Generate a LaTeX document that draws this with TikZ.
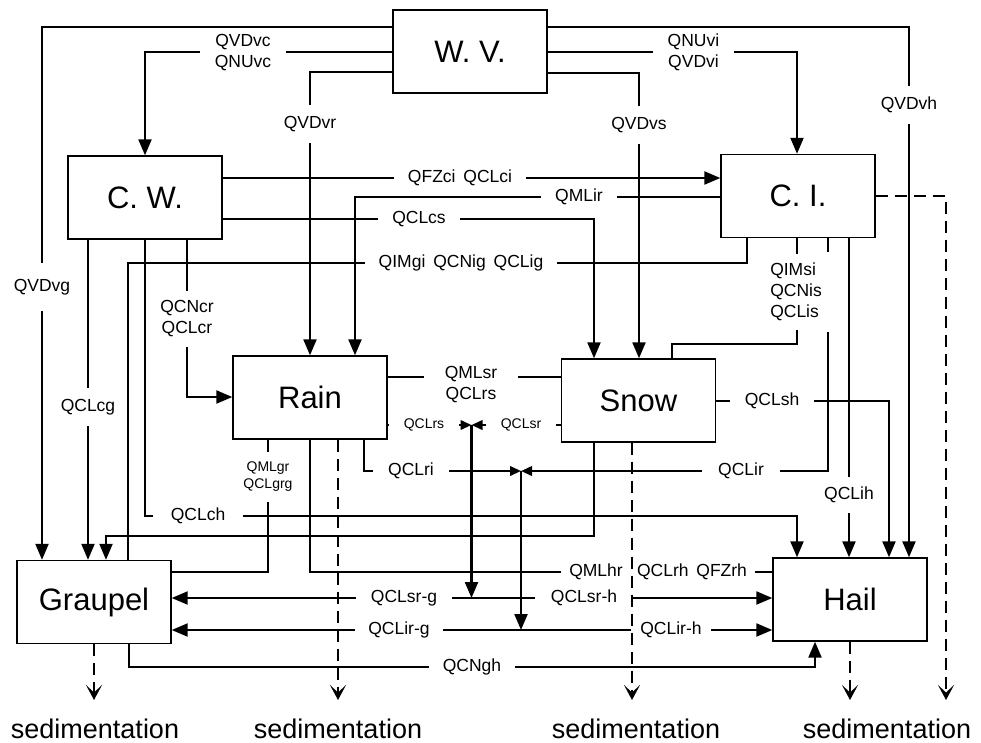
\documentclass[tikz,border=0pt]{standalone}
\usepackage{fontspec}
\setmainfont{Liberation Sans}
\usetikzlibrary{arrows.meta}
\begin{document}
\begin{tikzpicture}[x=1pt,y=-1pt,
  box/.style={draw, line width=1.4pt, fill=white, minimum width=154pt, minimum height=83pt, inner sep=0pt, font=\fontsize{31}{37}\selectfont},
  con/.style={draw, line width=2.2pt},
  arr/.style={-{Triangle[length=16pt,width=13pt]}},
  sarr/.style={-{Triangle[length=11pt,width=9.5pt]}},
  sed/.style={line width=2.2pt, dash pattern=on 12pt off 7pt, -{Stealth[length=15pt,width=16pt,inset=7.5pt]}},
  lab/.style={fill=white, inner sep=0pt, font=\fontsize{17.5}{21}\selectfont, align=center},
  hlab/.style={lab, inner ysep=1pt, inner xsep=#1}, hlab/.default=14pt,
  vlab/.style={lab, inner xsep=1pt, inner ysep=#1}, vlab/.default=11pt,
  smlab/.style={font=\fontsize{14}{17}\selectfont},
  sedtext/.style={font=\fontsize{27}{32}\selectfont, anchor=base}
]
\useasboundingbox (0,0) rectangle (981,742);

% boxes
\node[box] (wv) at (470,51.5) {W. V.};
\node[box] (cw) at (145,197.5) {C. W.};
\node[box] (ci) at (798,196) {C. I.};
\node[box] (ra) at (310,397.5) {Rain};
\node[box] (sn) at (638.5,400.5) {Snow};
\node[box] (gr) at (94,602) {Graupel};
\node[box] (ha) at (850,599.5) {Hail};

\coordinate (m1) at (471.5,425);
\coordinate (j1) at (471.5,598);
\coordinate (m2) at (521,471);
\coordinate (j2) at (521,630);

% connectors
\draw[con,arr] (wv.west |- 0,27) -| (42,0 |- gr.north);
\draw[con,arr] (wv.east |- 0,27) -| (909,0 |- ha.north);
\draw[con,arr] (wv.west |- 0,52) -| (cw.north);
\draw[con,arr] (wv.east |- 0,52) -| (797,0 |- ci.north);
\draw[con,arr] (wv.west |- 0,72) -| (ra.north);
\draw[con,arr] (wv.east |- 0,73) -| (639,0 |- sn.north);
\draw[con,arr] (cw.east |- 0,178) -- (ci.west |- 0,178);
\draw[con,arr] (ci.west |- 0,197) -| (355,0 |- ra.north);
\draw[con,arr] (cw.east |- 0,219) -| (594,0 |- sn.north);
\draw[con] (747,0 |- ci.south) |- (128,263) -- (128,0 |- gr.north);
\draw[con,arr] (88,0 |- cw.south) -- (88,0 |- gr.north);
\draw[con,arr] (cw.south) |- (797,516) -- (797,0 |- ha.north);
\draw[con,arr] (187,0 |- cw.south) |- (ra.west |- 0,397);
\draw[con,arr] (594,0 |- sn.south) |- (106,536) -- (106,0 |- gr.north);
\draw[con] (268,0 |- ra.south) |- (gr.east |- 0,572);
\draw[con] (ra.south) |- (ha.west |- 0,572);
\draw[con] (ra.east |- 0,377) -- (sn.west |- 0,377);
\draw[con,sarr] (ra.east |- 0,425) -- (m1);
\draw[con,sarr] (sn.west |- 0,425) -- (m1);
\draw[con,arr] (m1) -- (j1);
\draw[con,arr] (j1) -- (gr.east |- j1);
\draw[con,arr] (j1) -- (ha.west |- j1);
\draw[con,sarr] (364,0 |- ra.south) |- (m2);
\draw[con] (828,0 |- ci.south) -- (828,252);
\draw[con,sarr] (828,332) |- (m2);
\draw[con,arr] (m2) -- (j2);
\draw[con,arr] (j2) -- (gr.east |- j2);
\draw[con,arr] (j2) -- (ha.west |- j2);
\draw[con] (797,0 |- ci.south) -- (797,344) -| (672,0 |- sn.north);
\draw[con,arr] (sn.east |- 0,401) -| (889,0 |- ha.north);
\draw[con,arr] (849,0 |- ci.south) -- (849,0 |- ha.north);
\draw[con,arr] (129,0 |- gr.south) |- (815,667) -- (815,0 |- ha.south);

% labels
\node[vlab=16pt] (l1) at (42,287) {QVDvg};
\node[vlab] (l2) at (909,105) {QVDvh};
\node[hlab=15pt] (l3) at (243,52.5) {QVDvc\\QNUvc};
\node[hlab=15pt] (l4) at (693.5,52.5) {QNUvi\\QVDvi};
\node[vlab] (l5) at (310,124) {QVDvr};
\node[vlab] (l6) at (639,125) {QVDvs};
\node[hlab] (l7) at (460,178) {QFZci\hspace{0.45em}QCLci};
\node[hlab] (l8) at (579,197) {QMLir};
\node[hlab] (l9) at (419,219) {QCLcs};
\node[hlab] (l10) at (461,263) {QIMgi\hspace{0.45em}QCNig\hspace{0.45em}QCLig};
\node[vlab] (l11) at (88,407) {QCLcg};
\node[hlab=18pt] (l12) at (198,516) {QCLch};
\node[vlab=10pt] (l13) at (187,319) {QCNcr\\QCLcr};
\node[vlab=10pt, smlab] (l14) at (268,477) {QMLgr\\QCLgrg};
\node[hlab=8pt] (l15) at (596,572) {QMLhr};
\node[hlab=8pt] (l16) at (692,572) {QCLrh\hspace{0.45em}QFZrh};
\node[hlab=21pt] (l17) at (471,384.5) {QMLsr\\QCLrs};
\node[hlab=15pt, smlab] (l18) at (424,425) {QCLrs};
\node[hlab=15pt, smlab] (l19) at (521,425) {QCLsr};
\node[hlab=15pt] (l20) at (404,598) {QCLsr-g};
\node[hlab=16pt] (l21) at (584,598) {QCLsr-h};
\node[hlab=15pt] (l22) at (411,471) {QCLri};
\node[hlab=16pt] (l23) at (741,471) {QCLir};
\node[hlab=13pt] (l24) at (399,630) {QCLir-g};
\node[hlab=9pt] (l25) at (671,630) {QCLir-h};
\node[vlab=9pt, align=left] (l26) at (796,292) {QIMsi\\QCNis\\QCLis};
\node[hlab=15pt] (l27) at (772,401) {QCLsh};
\node[vlab=10pt] (l28) at (849,495) {QCLih};
\node[hlab=14pt] (l29) at (472,667) {QCNgh};

% sedimentation
\draw[sed] (gr.south) -- (94,700);
\draw[sed] (338,0 |- ra.south) -- (338,700);
\draw[sed] (632,0 |- sn.south) -- (632,700);
\draw[sed] (ha.south) -- (850,700);
\draw[sed] (ci.east |- 0,196) -| (946,700);
\node[sedtext] (s1) at (95,738) {sedimentation};
\node[sedtext] (s2) at (338,738) {sedimentation};
\node[sedtext] (s3) at (636,738) {sedimentation};
\node[sedtext] (s4) at (887,738) {sedimentation};
\end{tikzpicture}
\end{document}
